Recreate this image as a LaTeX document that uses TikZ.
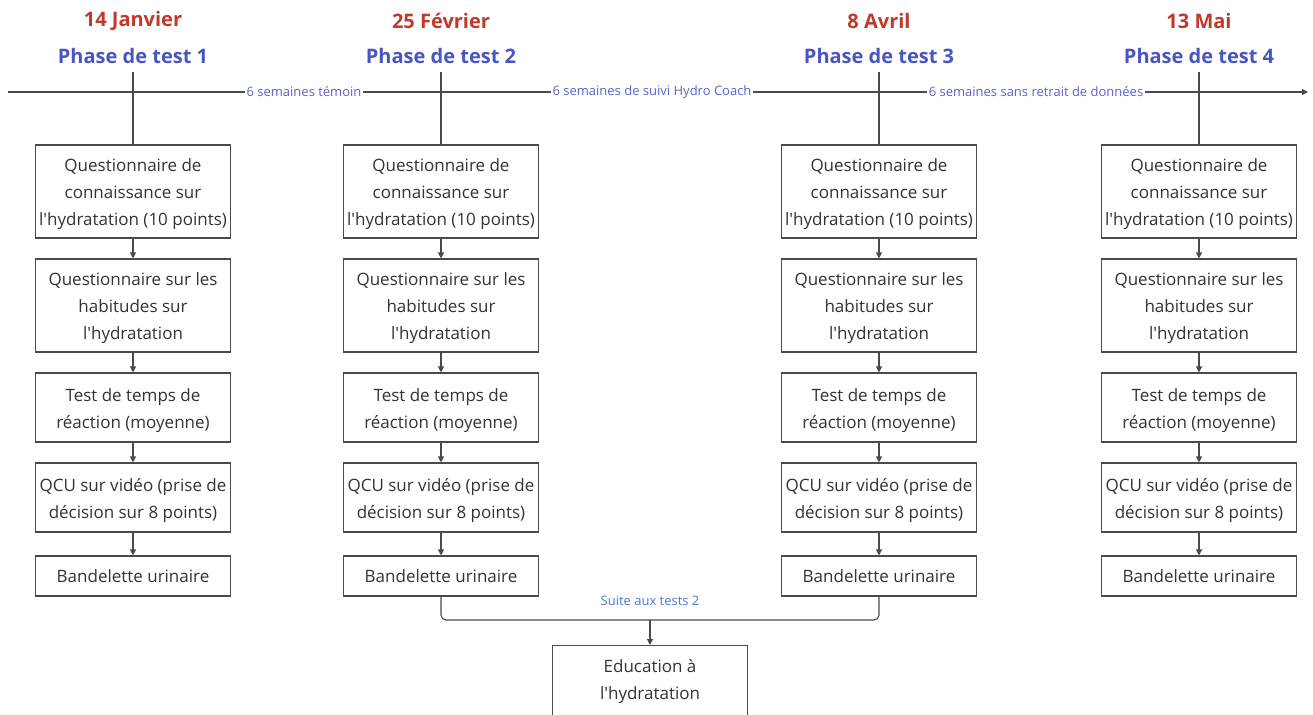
\documentclass[tikz,border=0pt]{standalone}
\usepackage{fontspec}
\setmainfont{Open Sans}
\usetikzlibrary{arrows.meta,positioning}
\definecolor{datered}{HTML}{C0392B}
\definecolor{phaseblue}{HTML}{4A55C0}
\definecolor{lblblue}{HTML}{5A63CC}
\definecolor{suiteblue}{HTML}{4F78CF}
\definecolor{linegray}{HTML}{4A4A4A}
\definecolor{txtgray}{HTML}{333333}
\newcommand{\apos}{\textquotesingle}
\newcommand{\tp}{\rule{0pt}{19pt}}
\tikzset{
  stepbox/.style={draw=linegray, line width=1.1pt, fill=white, align=center,
    minimum width=195pt, inner sep=2pt, text=txtgray,
    font=\fontsize{17}{27}\selectfont},
  datelbl/.style={text=datered, font=\fontsize{20}{24}\bfseries\selectfont},
  phaselbl/.style={text=phaseblue, font=\fontsize{20}{24}\bfseries\selectfont},
  tllbl/.style={text=lblblue, fill=white, inner sep=2pt, font=\fontsize{13}{15}\selectfont},
  conn/.style={draw=linegray, line width=1.1pt, -{Triangle[length=6pt,width=6pt]}},
  plain/.style={draw=linegray, line width=1.1pt}
}
\begin{document}
\begin{tikzpicture}[x=1pt,y=-1pt]
\useasboundingbox (0,0) rectangle (1313,714);
\fill[white] (0,0) rectangle (1313,714);
% timeline
\coordinate (tlA) at (8,92);
\coordinate (tlB) at (1308,92);
\draw[conn] (tlA) -- (tlB);
\foreach \i/\x/\d/\p in {1/133/14 Janvier/1, 2/441/25 Février/2, 3/879/8 Avril/3, 4/1199/13 Mai/4}{
  \node[datelbl] (d\i) at (\x,21) {\d};
  \node[phaselbl] (p\i) at (\x,56) {Phase de test \p};
  \coordinate (top\i) at (\x,72);
  \node[stepbox, minimum height=93pt] (a\i) at (\x,191.5) {\tp Questionnaire de\\connaissance sur\\l\apos hydratation (10 points)};
  \node[stepbox, minimum height=93pt] (b\i) at (\x,305.5) {\tp Questionnaire sur les\\habitudes sur\\l\apos hydratation};
  \node[stepbox, minimum height=69pt] (c\i) at (\x,407.5) {\tp Test de temps de\\réaction (moyenne)};
  \node[stepbox, minimum height=69pt] (e\i) at (\x,497.5) {\tp QCU sur vidéo (prise de\\décision sur 8 points)};
  \node[stepbox, minimum height=40pt] (f\i) at (\x,576) {Bandelette urinaire};
  \draw[plain] (top\i) -- (a\i.north);
  \draw[conn] (a\i) -- (b\i);
  \draw[conn] (b\i) -- (c\i);
  \draw[conn] (c\i) -- (e\i);
  \draw[conn] (e\i) -- (f\i);
}
\node[tllbl] (l1) at (304,92) {6 semaines témoin};
\node[tllbl] (l2) at (652,92) {6 semaines de suivi Hydro Coach};
\node[tllbl] (l3) at (1036,92) {6 semaines sans retrait de données};
% bottom merge
\node[stepbox, minimum height=72pt, anchor=north] (edu) at (650,645) {Education à\\l\apos hydratation};
\coordinate (mrg) at (650,620);
\draw[plain, rounded corners=5pt] (f2.south) |- (mrg) -| (f3.south);
\draw[conn] (mrg) -- (edu.north);
\node[text=suiteblue, font=\fontsize{13}{15}\selectfont] (suite) at (650,601) {Suite aux tests 2};
\end{tikzpicture}
\end{document}
